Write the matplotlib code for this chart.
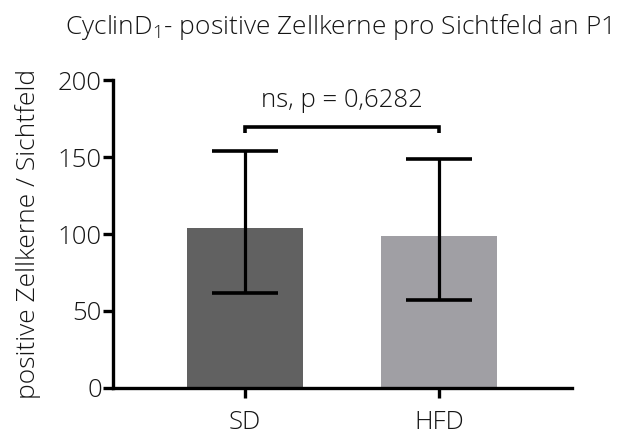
import matplotlib
matplotlib.use("Agg")
import matplotlib.pyplot as plt

plt.rcParams['font.family'] = ['Open Sans', 'DejaVu Sans']
plt.rcParams['font.weight'] = 'light'
plt.rcParams['axes.labelweight'] = 'light'
plt.rcParams['mathtext.fontset'] = 'custom'
plt.rcParams['mathtext.rm'] = 'Open Sans:light'
plt.rcParams['mathtext.it'] = 'Open Sans:light'

groups = ["SD", "HFD"]
means = [103.7, 98.9]
err_low = [61.9, 57.1]
err_high = [154.0, 148.5]
bar_colors = ["#616161", "#a09fa4"]
y_ticks = [0, 50, 100, 150, 200]
p_label = "ns, p = 0,6282"

text_color = "#151515"
fs = 18.5

fig = plt.figure(figsize=(6.24, 4.36), dpi=100)
ax = fig.add_axes([0.1811, 0.1101, 0.7356, 0.7064])

x = list(range(len(groups)))
ax.bar(x, means, width=0.6, color=bar_colors, zorder=1)

lower = [m - lo for m, lo in zip(means, err_low)]
upper = [hi - m for m, hi in zip(means, err_high)]
ax.errorbar(x, means, yerr=[lower, upper], fmt='none', ecolor='black',
            elinewidth=2.3, capsize=23.5, capthick=2.6, zorder=2)

# significance bracket
y_br, y_tip = 169.5, 165.6
ax.plot([0, 0, 1, 1], [y_tip, y_br, y_br, y_tip], color='black', lw=2.6,
        solid_capstyle='butt', solid_joinstyle='miter', zorder=3)
ax.text(0.5, 178.5, p_label, ha='center', va='bottom', fontsize=fs,
        fontweight='light', color=text_color)

ax.set_xlim(-0.68, 1.686)
ax.set_ylim(0, 200)
ax.set_yticks(y_ticks)
ax.set_xticks(x)
ax.set_xticklabels(groups)

for side in ['top', 'right']:
    ax.spines[side].set_visible(False)
for side in ['left', 'bottom']:
    ax.spines[side].set_linewidth(2.4)
    ax.spines[side].set_color('black')

ax.tick_params(axis='both', which='major', length=7, width=2.4,
               color='black', labelsize=fs, labelcolor=text_color)
ax.tick_params(axis='x', pad=9)
ax.tick_params(axis='y', pad=1)

ax.set_ylabel("positive Zellkerne / Sichtfeld", fontsize=19,
              fontweight='light', color=text_color, labelpad=12)
fig.text(0.542, 0.938, "CyclinD$_{1}$- positive Zellkerne pro Sichtfeld an P1",
         ha='center', va='center', fontsize=19, fontweight='light',
         color=text_color)

fig.savefig("out.png", dpi=100)
